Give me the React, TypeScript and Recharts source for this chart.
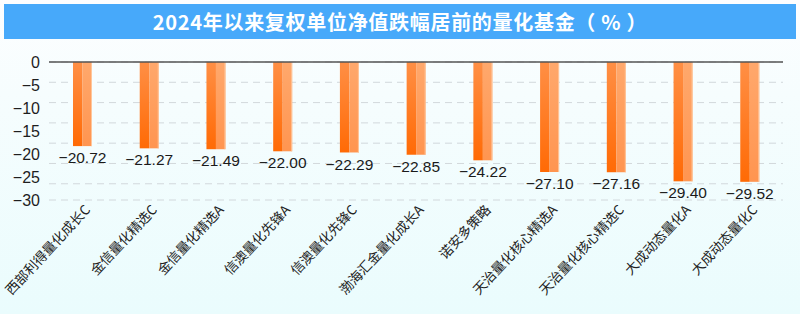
import React from 'react';
import { BarChart, Bar, Line, XAxis, YAxis, CartesianGrid, ReferenceLine, LabelList } from 'recharts';

const fundNames = [
  '西部利得量化成长C',
  '金信量化精选C',
  '金信量化精选A',
  '信澳量化先锋A',
  '信澳量化先锋C',
  '渤海汇金量化成长A',
  '诺安多策略',
  '天治量化核心精选A',
  '天治量化核心精选C',
  '大成动态量化A',
  '大成动态量化C',
];
const navChange = [-20.72, -21.27, -21.49, -22.0, -22.29, -22.85, -24.22, -27.1, -27.16, -29.4, -29.52];
const yTicks = [0, -5, -10, -15, -20, -25, -30];

const data = fundNames.map((name, i) => ({ name, value: navChange[i] }));

const fmt = (v: number) => v.toFixed(2).replace('-', '−');

const BarShape = (props: any) => {
  const { x, y, width, height } = props;
  const top = Math.min(y, y + height);
  const h = Math.abs(height);
  const half = width / 2;
  return (
    <g>
      <rect x={x} y={top} width={half} height={h} fill="url(#barLeft)" />
      <rect x={x + half} y={top} width={width - half} height={h} fill="url(#barRight)" />
      <rect x={x + width - 1} y={top} width={1} height={h} fill="#ffc69b" />
    </g>
  );
};

const ValueLabel = (props: any) => {
  const { x, y, width, height, value } = props;
  const bottom = Math.max(y, y + height);
  return (
    <text
      x={x + width / 2}
      y={bottom + 13}
      textAnchor="middle"
      dominantBaseline="middle"
      fontSize={15.5}
      fontFamily="'Liberation Sans', Arial, sans-serif"
      fill="#1a1a1a"
    >
      {fmt(value)}
    </text>
  );
};

const NameTick = (props: any) => {
  const { x, y, payload } = props;
  const ax = x + 6;
  const ay = y + 8;
  return (
    <text
      x={ax}
      y={ay}
      textAnchor="end"
      dominantBaseline="middle"
      transform={`rotate(-47 ${ax} ${ay})`}
      fontSize={13.5}
      fontFamily="'Noto Sans CJK SC', sans-serif"
      fill="#222"
    >
      {payload.value}
    </text>
  );
};

export default function App() {
  return (
    <div
      style={{
        position: 'absolute',
        left: 0,
        top: 0,
        width: 800,
        height: 314,
        background: 'linear-gradient(#fdfeff 0%, #f6fdfe 30%, #eafcfd 100%)',
        overflow: 'hidden',
      }}
    >
      <div
        style={{
          position: 'absolute',
          left: 4,
          top: 4,
          width: 792,
          height: 35,
          background: '#47a9fa',
          color: '#fff',
          fontFamily: "'Noto Sans CJK SC', sans-serif",
          fontWeight: 700,
          fontSize: 20,
          letterSpacing: 0.7,
          lineHeight: '35px',
          textAlign: 'center',
        }}
      >
        2024年以来复权单位净值跌幅居前的量化基金（ % ）
      </div>
      <div style={{ position: 'absolute', left: 0, top: 40 }}>
        <BarChart width={800} height={274} data={data} margin={{ top: 22, right: 17, left: 0, bottom: 0 }}>
          <defs>
            <linearGradient id="barLeft" x1="0" y1="0" x2="0" y2="1">
              <stop offset="0%" stopColor="#ff8f45" />
              <stop offset="100%" stopColor="#ff6a05" />
            </linearGradient>
            <linearGradient id="barRight" x1="0" y1="0" x2="0" y2="1">
              <stop offset="0%" stopColor="#ffa86c" />
              <stop offset="100%" stopColor="#ff9550" />
            </linearGradient>
          </defs>
          <CartesianGrid
            yAxisId="bar"
            vertical={false}
            stroke="#d2d8dc"
            strokeDasharray="7 5"
          />
          <XAxis
            dataKey="name"
            axisLine={false}
            tickLine={false}
            tickSize={0}
            tickMargin={0}
            height={114}
            interval={0}
            tick={<NameTick />}
          />
          <YAxis
            yAxisId="tick"
            type="number"
            domain={[-30, 0]}
            allowDataOverflow
            ticks={yTicks}
            interval={0}
            axisLine={false}
            tickLine={false}
            tickSize={0}
            tickMargin={9}
            width={49}
            tick={{ fontSize: 16, fill: '#1e1e1e', fontFamily: "'Liberation Sans', Arial, sans-serif" }}
            tickFormatter={(v: number) => String(v).replace('-', '−')}
          />
          <YAxis
            yAxisId="bar"
            type="number"
            orientation="right"
            width={0}
            hide
            domain={[-34, 0]}
            allowDataOverflow
            ticks={yTicks}
            interval={0}
          />
          <Line
            yAxisId="tick"
            dataKey="value"
            stroke="none"
            dot={false}
            activeDot={false}
            legendType="none"
            isAnimationActive={false}
          />
          <Bar dataKey="value" yAxisId="bar" barSize={19} shape={<BarShape />} isAnimationActive={false}>
            <LabelList dataKey="value" content={<ValueLabel />} />
          </Bar>
          <ReferenceLine yAxisId="bar" y={0} stroke="#555" strokeWidth={1.5} />
        </BarChart>
      </div>
    </div>
  );
}
